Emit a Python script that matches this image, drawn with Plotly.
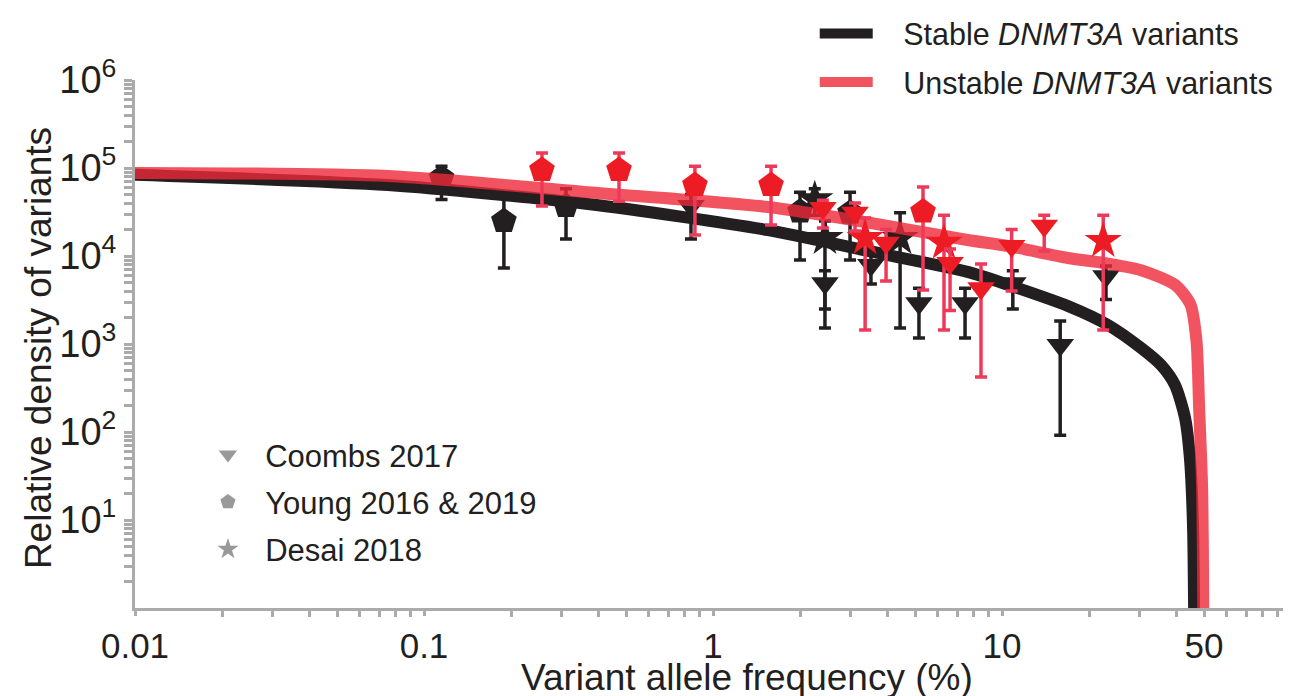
import plotly.graph_objects as go

# ---------------- data ----------------
# Model curves: VAF (%) vs relative density
stable_vaf = [0.01, 0.075, 0.369, 1.55, 3.44, 7.6, 10.5, 16.9, 23.3, 30.3, 35.5, 39.7, 43.0, 44.7, 45.8, 46.2, 46.25]
stable_den = [8.4e4, 6.4e4, 3.9e4, 1.97e4, 1.14e4, 6.6e3, 4.7e3, 2.7e3, 1.64e3, 900, 577, 341, 144, 50, 8.8, 1.0, 0.4]
unstable_vaf = [0.01, 0.075, 0.369, 1.55, 3.44, 7.6, 10.5, 16.9, 23.3, 30.3, 39.7, 44.9, 47.1, 48.1, 49.3, 49.7, 49.75]
unstable_den = [8.8e4, 8.1e4, 5.3e4, 3.6e4, 2.4e4, 1.52e4, 1.3e4, 9.5e3, 8.2e3, 6.9e3, 4.7e3, 2.8e3, 1.08e3, 188, 21, 1.0, 0.4]

# Stable variants (black)
st_coombs_vaf = [0.839, 2.44, 3.52, 5.16, 7.45, 10.9, 15.9, 22.9]
st_coombs_den = [3.7e4, 4.9e3, 7.9e3, 2.9e3, 2.9e3, 4.9e3, 975, 5.9e3]
st_coombs_lo = [1.56e4, 2.5e3, 4.8e3, 1.17e3, 1.17e3, 2.5e3, 92, 3.2e3]
st_coombs_hi = [5.0e4, 6.8e3, 1.1e4, 4.3e3, 4.3e3, 6.8e3, 1.82e3, 7.7e3]

st_young_vaf = [0.115, 0.189, 0.310, 2.0, 2.98]
st_young_den = [7.7e4, 2.5e4, 3.7e4, 3.2e4, 3.1e4]
st_young_lo = [4.4e4, 7.3e3, 1.56e4, 9.0e3, 9.0e3]
st_young_hi = [1.05e5, 4.6e4, 5.8e4, 5.3e4, 5.3e4]

st_desai_vaf = [2.25, 2.44, 4.44]
st_desai_den = [4.4e4, 1.6e4, 1.6e4]
st_desai_lo = [2.9e4, 1.52e3, 1.52e3]
st_desai_hi = [5.8e4, 2.5e4, 3.1e4]

# Unstable variants (red)
un_coombs_vaf = [2.40, 3.10, 3.97, 6.61, 8.46, 10.8, 14.0]
un_coombs_den = [3.5e4, 3.1e4, 1.41e4, 8.3e3, 4.3e3, 1.3e4, 2.2e4]
un_coombs_lo = [2.08e4, 1.92e4, 5.2e3, 2.4e3, 422, 4.0e3, 1.14e4]
un_coombs_hi = [4.3e4, 4.0e4, 2.0e4, 1.2e4, 8.1e3, 2.0e4, 2.9e4]

un_young_vaf = [0.256, 0.473, 0.866, 1.588, 5.33]
un_young_den = [9.5e4, 9.5e4, 6.4e4, 6.4e4, 3.2e4]
un_young_lo = [3.7e4, 4.2e4, 1.73e4, 2.25e4, 4.1e3]
un_young_hi = [1.48e5, 1.48e5, 1.05e5, 1.05e5, 6.1e4]

un_desai_vaf = [3.36, 6.30, 22.4]
un_desai_den = [1.6e4, 1.41e4, 1.48e4]
un_desai_lo = [1.44e3, 1.44e3, 1.44e3]
un_desai_hi = [2.7e4, 2.9e4, 2.9e4]

x_tickvals = [0.01, 0.1, 1, 10, 50]
x_ticktext = ["0.01", "0.1", "1", "10", "50"]
y_tickvals = [10, 100, 1e3, 1e4, 1e5, 1e6]
y_ticktext = ["10<sup>1</sup>", "10<sup>2</sup>", "10<sup>3</sup>", "10<sup>4</sup>", "10<sup>5</sup>", "10<sup>6</sup>"]

# ---------------- styling ----------------
BLACK = "#231F20"
RED_LINE = "rgba(237,40,56,0.80)"
RED_MARK = "#ED1C24"
RED_ERR = "#EE3A5A"
GRAY_AX = "#ABABAB"
FONT = "Liberation Sans, Arial, Helvetica, sans-serif"
NB = "\u00a0"


def err(den, lo, hi):
    plus = [h - d for d, h in zip(den, hi)]
    minus = [d - l for d, l in zip(den, lo)]
    return plus, minus


fig = go.Figure()

# black curve
fig.add_trace(go.Scatter(x=stable_vaf, y=stable_den, mode="lines",
                         line=dict(color=BLACK, width=12, shape="spline", smoothing=0.7),
                         name=NB * 3 + "Stable <i>DNMT3A</i> variants", legend="legend", legendgroup="a"))


def add_points(vx, vy, lo, hi, symbol, size, mcolor, ecolor):
    p, m = err(vy, lo, hi)
    fig.add_trace(go.Scatter(x=vx, y=vy, mode="markers",
                             marker=dict(symbol=symbol, size=size, color=mcolor, line=dict(width=0)),
                             error_y=dict(type="data", symmetric=False, array=p, arrayminus=m,
                                          color=ecolor, thickness=3.5, width=6),
                             showlegend=False))


add_points(st_young_vaf, st_young_den, st_young_lo, st_young_hi, "pentagon", 27, BLACK, BLACK)
add_points(st_desai_vaf, st_desai_den, st_desai_lo, st_desai_hi, "star", 28, BLACK, BLACK)
add_points(st_coombs_vaf, st_coombs_den, st_coombs_lo, st_coombs_hi, "triangle-down", 24, BLACK, BLACK)

# red curve
fig.add_trace(go.Scatter(x=unstable_vaf, y=unstable_den, mode="lines",
                         line=dict(color=RED_LINE, width=12, shape="spline", smoothing=0.7),
                         name=NB * 3 + "Unstable <i>DNMT3A</i> variants", legend="legend", legendgroup="b"))

add_points(un_young_vaf, un_young_den, un_young_lo, un_young_hi, "pentagon", 27, RED_MARK, RED_ERR)
add_points(un_desai_vaf, un_desai_den, un_desai_lo, un_desai_hi, "star", 28, RED_MARK, RED_ERR)
add_points(un_coombs_vaf, un_coombs_den, un_coombs_lo, un_coombs_hi, "triangle-down", 24, RED_MARK, RED_ERR)

# marker legend (gray)
for nm, sym, grp in [("Coombs 2017", "triangle-down", "c"), ("Young 2016 &amp; 2019", "pentagon", "d"), ("Desai 2018", "star", "e")]:
    fig.add_trace(go.Scatter(x=[None], y=[None], mode="markers", name=NB * 2 + nm,
                             marker=dict(symbol=sym, size=22, color="#999999"),
                             legend="legend2", legendgroup=grp))

minor_x = [m * 10 ** k for k in range(-2, 2) for m in range(2, 10)]
minor_y = [m * 10 ** k for k in range(0, 6) for m in range(2, 10)]

fig.update_layout(
    width=1291, height=696,
    margin=dict(l=127, r=8, t=72, b=96, autoexpand=False),
    paper_bgcolor="white", plot_bgcolor="white",
    font=dict(family=FONT, color=BLACK, size=32),
    xaxis=dict(type="log", range=[-2, 2], tickmode="array", tickvals=x_tickvals, ticktext=x_ticktext,
               automargin=False,
               showgrid=False, zeroline=False, showline=True, linecolor=GRAY_AX, linewidth=3,
               ticks="outside", ticklen=5, tickwidth=2.5, tickcolor=GRAY_AX,
               tickfont=dict(size=35, family=FONT, color=BLACK),
               minor=dict(tickmode="array", tickvals=minor_x, ticks="outside", ticklen=6, tickwidth=2.5,
                          tickcolor=GRAY_AX, showgrid=False)),
    yaxis=dict(type="log", range=[0, 6], tickmode="array", tickvals=y_tickvals, ticktext=y_ticktext,
               automargin=False,
               showgrid=False, zeroline=False, showline=True, linecolor=GRAY_AX, linewidth=3,
               ticks="outside", ticklen=8, tickwidth=2.5, tickcolor=GRAY_AX,
               tickfont=dict(size=38, family=FONT, color=BLACK),
               minor=dict(tickmode="array", tickvals=minor_y, ticks="outside", ticklen=8, tickwidth=2.5,
                          tickcolor=GRAY_AX, showgrid=False)),
    annotations=[
        dict(text="Variant allele frequency (%)", xref="paper", yref="paper", x=0.529, y=-0.131,
             xanchor="center", yanchor="middle", showarrow=False,
             font=dict(size=37, family=FONT, color=BLACK)),
        dict(text="Relative density of variants", xref="paper", yref="paper", x=-0.084, y=0.492,
             xanchor="center", yanchor="middle", textangle=-90, showarrow=False,
             font=dict(size=37, family=FONT, color=BLACK)),
    ],
    legend=dict(x=0.588, y=1.138, xanchor="left", yanchor="top", bgcolor="rgba(0,0,0,0)",
                font=dict(size=30.5, family=FONT, color=BLACK), itemwidth=53, tracegroupgap=6),
    legend2=dict(x=0.0631, y=0.341, xanchor="left", yanchor="top", bgcolor="rgba(0,0,0,0)",
                 font=dict(size=31, family=FONT, color=BLACK), tracegroupgap=4),
    showlegend=True,
)

fig.write_html("out.html")
